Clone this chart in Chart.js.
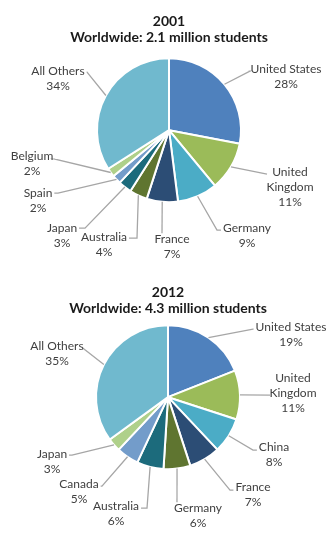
<!DOCTYPE html>
<html>
<head>
<meta charset="utf-8">
<script src="https://cdn.jsdelivr.net/npm/chart.js@4.4.0/dist/chart.umd.min.js"></script>
<style>
  html, body { margin: 0; padding: 0; background: #fff; }
  body { width: 333px; height: 535px; overflow: hidden; position: relative; }
  canvas { position: absolute; left: 0; }
  #c1 { top: 0; }
  #c2 { top: 270px; }
</style>
</head>
<body>
<canvas id="c1" width="333" height="270"></canvas>
<canvas id="c2" width="333" height="265"></canvas>
<script>
// ---- Data ----
const categories2001 = ["United States", "United\nKingdom", "Germany", "France", "Australia", "Japan", "Spain", "Belgium", "All Others"];
const values2001 = [28, 11, 9, 7, 4, 3, 2, 2, 34];
const title2001 = ["2001", "Worldwide: 2.1 million students"];

const categories2012 = ["United States", "United\nKingdom", "China", "France", "Germany", "Australia", "Canada", "Japan", "All Others"];
const values2012 = [19, 11, 8, 7, 6, 6, 5, 3, 35];
const title2012 = ["2012", "Worldwide: 4.3 million students"];

// ---- Styles ----
const sliceColors = ["#4f81bd", "#9bbb59", "#4bacc6", "#2c4d75", "#5f7530", "#1c6b7c", "#739cca", "#afd08a", "#70b9ce"];

// Label layout (offsets from pie center): [textX, textY, elbowX, elbowY]
const labelLayout2001 = [
  [117, -61, 81, -59],
  [121, 42, 98, 44],
  [78, 98, 48, 100],
  [3, 109, -7, 103],
  [-65, 107, -32, 108],
  [-107, 98, -84, 98],
  [-131, 63, -111, 63],
  [-137, 26, -114, 29],
  [-111, -59, -82, -58]
];
const labelLayout2012 = [
  [123, -70, 85, -68],
  [125, -19, 102, -2],
  [106, 50, 85, 53],
  [85, 90, 62, 93],
  [30, 111, 9, 105],
  [-52, 109, -21, 111],
  [-89, 87, -66, 89],
  [-116, 57, -96, 58],
  [-111, -51, -85, -49]
];

const LABEL_FONT = "12px Lato";
const LINE_H = 15;

const leaderLabels = {
  id: "leaderLabels",
  afterDatasetsDraw(chart, args, opts) {
    const ctx = chart.ctx;
    const meta = chart.getDatasetMeta(0);
    const layout = opts.layout;
    const labels = chart.data.labels;
    const vals = chart.data.datasets[0].data;
    ctx.save();
    ctx.font = LABEL_FONT;
    meta.data.forEach((arc, i) => {
      const p = arc.getProps(["x", "y", "startAngle", "endAngle", "outerRadius"], true);
      const mid = (p.startAngle + p.endAngle) / 2;
      const sx = p.x + Math.cos(mid) * p.outerRadius;
      const sy = p.y + Math.sin(mid) * p.outerRadius;
      const L = layout[i];
      const tx = p.x + L[0], ty = p.y + L[1];
      const ex = p.x + L[2], ey = p.y + L[3];
      const lines = labels[i].split("\n").concat([vals[i] + "%"]);
      let w = 0;
      lines.forEach(t => { w = Math.max(w, ctx.measureText(t).width); });
      const left = tx - w / 2, right = tx + w / 2;
      // leader line
      ctx.strokeStyle = "#a6a6a6";
      ctx.lineWidth = 1.3;
      ctx.beginPath();
      ctx.moveTo(sx, sy);
      ctx.lineTo(ex, ey);
      if (ex < left) ctx.lineTo(left - 2, ey);
      else if (ex > right) ctx.lineTo(right + 2, ey);
      ctx.stroke();
      // text
      ctx.fillStyle = "#404040";
      ctx.textAlign = "center";
      ctx.textBaseline = "middle";
      lines.forEach((t, k) => ctx.fillText(t, tx, ty + k * LINE_H));
    });
    ctx.restore();
  }
};

function makePie(id, cats, vals, title, layout, pad) {
  new Chart(document.getElementById(id), {
    type: "pie",
    data: {
      labels: cats,
      datasets: [{
        data: vals,
        backgroundColor: sliceColors,
        borderColor: "#ffffff",
        borderWidth: 2
      }]
    },
    options: {
      responsive: false,
      animation: false,
      radius: 72,
      layout: { padding: pad },
      plugins: {
        legend: { display: false },
        tooltip: { enabled: false },
        title: {
          display: true,
          text: title,
          color: "#1a1a1a",
          font: { family: "Lato", size: 14, weight: "bold", lineHeight: 1.12 },
          padding: { top: pad.titleTop, bottom: 4 }
        },
        leaderLabels: { layout: layout }
      }
    },
    plugins: [leaderLabels]
  });
}

makePie("c1", categories2001, values2001, title2001, labelLayout2001, { left: 5, right: 0, top: 0, bottom: 59, titleTop: 14 });
makePie("c2", categories2012, values2012, title2012, labelLayout2012, { left: 3, right: 0, top: 0, bottom: 61, titleTop: 15 });
</script>
</body>
</html>
